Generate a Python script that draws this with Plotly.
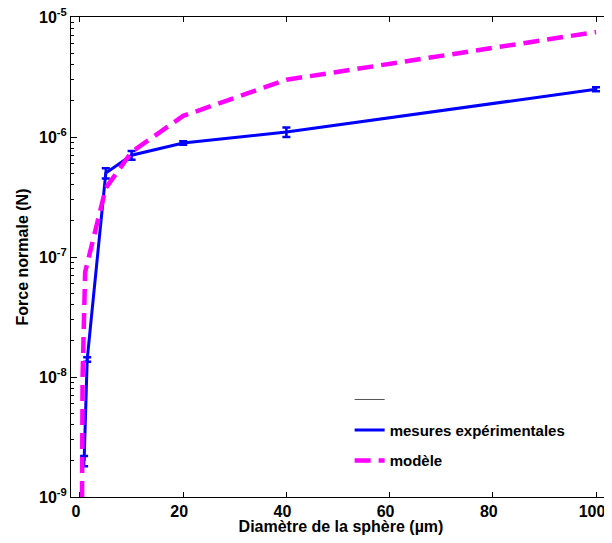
import plotly.graph_objects as go

# Blue: measurements
meas_x = [0.8, 1.4, 5, 10, 20, 40, 100]
meas_y = [2.0e-9, 1.4e-8, 5.0e-7, 7.05e-7, 8.9e-7, 1.1e-6, 2.5e-6]
meas_err = [0.2e-9, 0.06e-8, 0.5e-7, 0.6e-7, 0.3e-7, 0.1e-6, 0.1e-6]

# Magenta: model
model_x = [0.3, 0.5, 1, 5, 10, 20, 40, 100]
model_y = [1e-10, 1e-8, 7.5e-8, 3.75e-7, 7.5e-7, 1.5e-6, 3.0e-6, 7.5e-6]

x_ticks = [0, 20, 40, 60, 80, 100]
y_ticks = [1e-9, 1e-8, 1e-7, 1e-6, 1e-5]
y_ticktext = ["10<sup>-9</sup>", "10<sup>-8</sup>", "10<sup>-7</sup>", "10<sup>-6</sup>", "10<sup>-5</sup>"]
y_minor = [m * 10.0 ** e for e in range(-9, -5) for m in range(2, 10)]

FONT = "Liberation Sans, Arial, Helvetica, sans-serif"

fig = go.Figure()
fig.add_trace(go.Scatter(
    x=[None], y=[None], mode="lines", name=" ",
    line=dict(color="#555555", width=1), legendgroup="a"))
fig.add_trace(go.Scatter(
    x=meas_x, y=meas_y, mode="lines", name="mesures expérimentales",
    line=dict(color="#0000ff", width=3), legendgroup="b",
    error_y=dict(type="data", array=meas_err, color="#0000ff", thickness=2.5, width=4)))
fig.add_trace(go.Scatter(
    x=model_x, y=model_y, mode="lines", name="modèle",
    line=dict(color="#ff00ff", width=4.5, dash="16px,8px"), legendgroup="c"))

# page has an 8px body margin: figure is sized/offset to compensate
fig.update_layout(
    width=612, height=527,
    margin=dict(l=63, r=9, t=9, b=38, autoexpand=False),
    paper_bgcolor="white", plot_bgcolor="white",
    font=dict(family=FONT, size=16, color="black", weight="bold"),
    legend=dict(x=0.516, y=0.237, xanchor="left", yanchor="top",
                bgcolor="rgba(0,0,0,0)", tracegroupgap=8,
                font=dict(family=FONT, size=15, color="black", weight="bold")),
    xaxis=dict(
        range=[-1.74, 102.9], tickmode="array", tickvals=x_ticks, automargin=False,
        ticklabeloverflow="allow", ticklabelshift=-4,
        ticks="inside", ticklen=5, tickcolor="black", showline=True,
        linecolor="black", linewidth=1, mirror="ticks", showgrid=False, zeroline=False,
        title=dict(text="Diamètre de la sphère (µm)", standoff=4,
                   font=dict(family=FONT, size=16, weight="bold")),
        tickfont=dict(family=FONT, size=16, weight="bold")),
    yaxis=dict(
        type="log", range=[-9, -5], tickmode="array", tickvals=y_ticks, ticktext=y_ticktext,
        automargin=False, ticklabeloverflow="allow",
        ticks="inside", ticklen=6, tickcolor="black", showline=True,
        linecolor="black", linewidth=1, mirror="ticks", showgrid=False, zeroline=False,
        minor=dict(tickmode="array", tickvals=y_minor, ticks="inside", ticklen=3, tickcolor="black"),
        title=dict(text="Force normale (N)", standoff=6,
                   font=dict(family=FONT, size=16, weight="bold")),
        tickfont=dict(family=FONT, size=16, weight="bold")),
)

fig.write_html("out.html")
